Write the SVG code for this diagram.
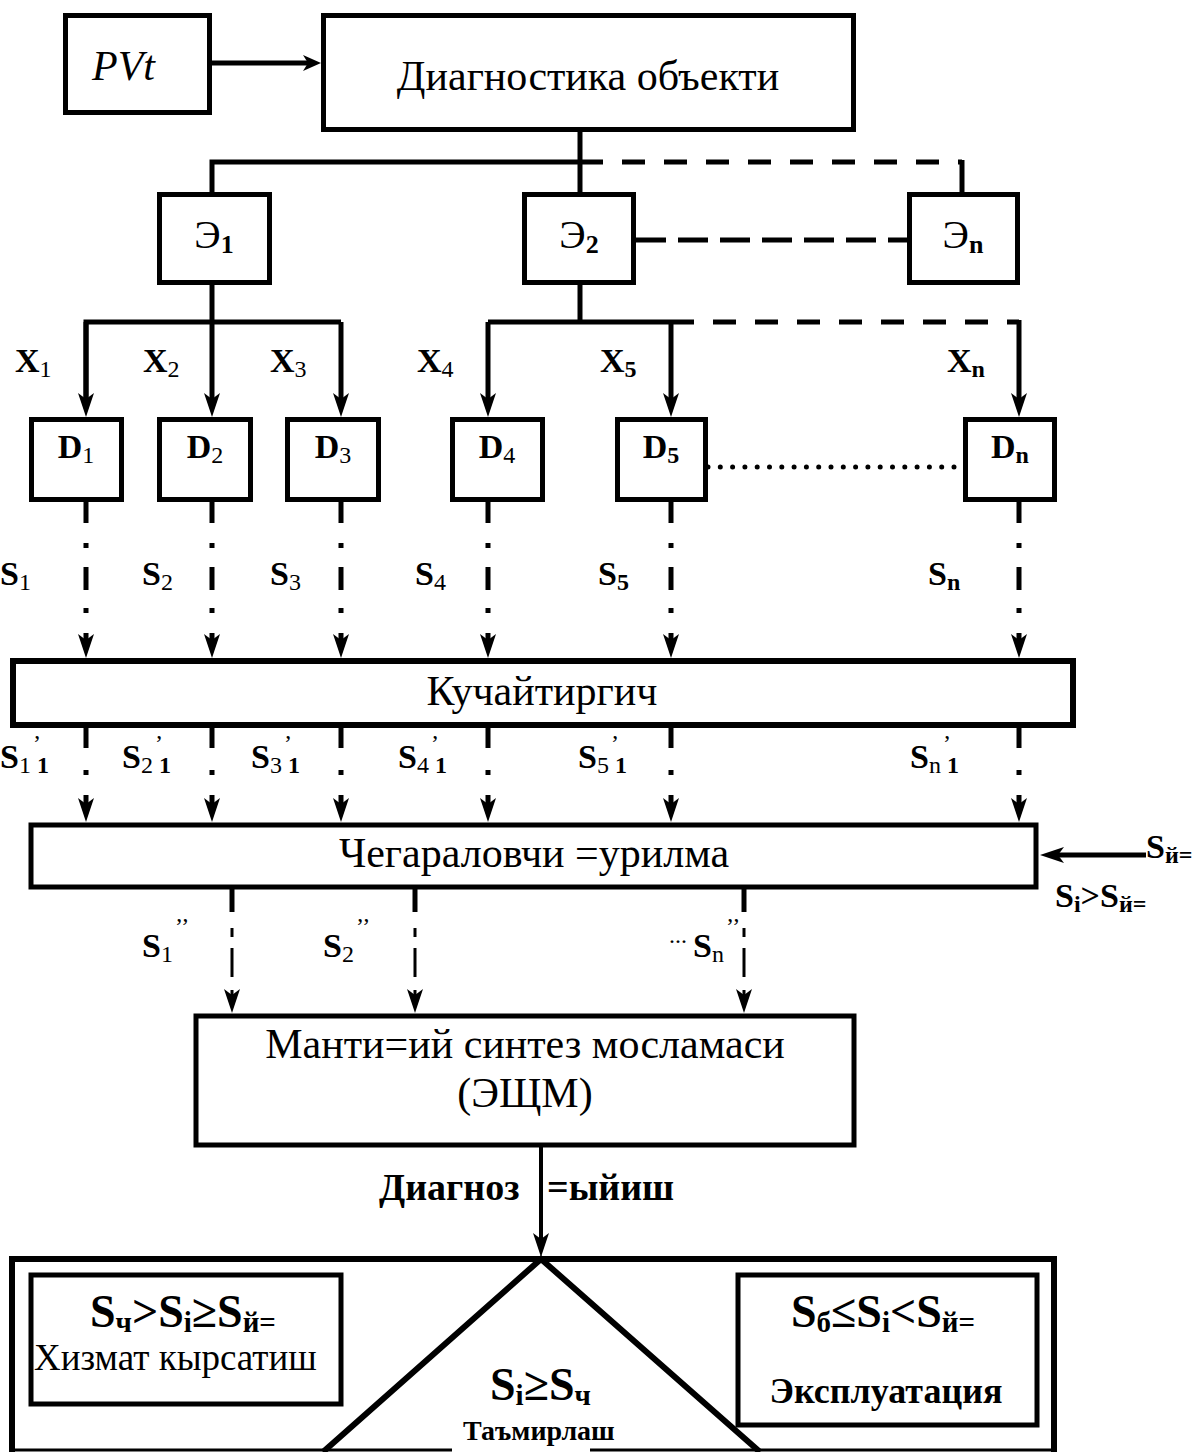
<svg xmlns="http://www.w3.org/2000/svg" width="1195" height="1452" viewBox="0 0 1195 1452">
<defs>
<style>
.box{fill:none;stroke:#000;stroke-width:5}
.ln{fill:none;stroke:#000;stroke-width:5}
.thin{fill:none;stroke:#000;stroke-width:3}
.t{font-family:"Liberation Serif","Times New Roman",serif;fill:#000}
.r42{font-size:42px}
.lb{font-size:34px;font-weight:bold}
.eb{font-size:40px;font-weight:normal}
.sub{font-size:24px;font-weight:normal}
.subb{font-size:24px;font-weight:bold}
.esub{font-size:26px;font-weight:bold}
.big{font-size:46px;font-weight:bold}
.bsub{font-size:29px;font-weight:bold}
</style>
<marker id="ah" viewBox="0 0 24 16" refX="6" refY="8" markerWidth="24" markerHeight="16" markerUnits="userSpaceOnUse" orient="auto"><path d="M0,0 L24,8 L0,16 L6,8 Z" fill="#000"/></marker>
<marker id="ahs" viewBox="0 0 18 16" refX="5" refY="8" markerWidth="18" markerHeight="16" markerUnits="userSpaceOnUse" orient="auto"><path d="M0,0 L18,8 L0,16 L5,8 Z" fill="#000"/></marker>
</defs>
<rect width="1195" height="1452" fill="#fff"/>

<g id="connectors">
<path class="ln" d="M212,63 H308" marker-end="url(#ahs)"/>
<path class="ln" d="M580,132 V192"/>
<path class="ln" d="M212,192 V162 H580"/>
<path class="ln" d="M580,162 H962" stroke-dasharray="23 19"/>
<path class="ln" d="M962,160 V192"/>
<path class="ln" d="M636,240 H907" stroke-dasharray="30 12"/>
<path class="ln" d="M212,285 V399" marker-end="url(#ah)"/>
<path class="ln" d="M86,399 V322 H341"/>
<path class="ln" d="M86,322 V399" marker-end="url(#ah)"/>
<path class="ln" d="M341,322 V399" marker-end="url(#ah)"/>
<path class="ln" d="M580,285 V322"/>
<path class="ln" d="M488,322 H671"/>
<path class="ln" d="M488,322 V399" marker-end="url(#ah)"/>
<path class="ln" d="M671,322 V399" marker-end="url(#ah)"/>
<path class="ln" d="M671,322 H1019" stroke-dasharray="23 19"/>
<path class="ln" d="M1019,320 V399" marker-end="url(#ah)"/>
<path class="ln" d="M708,467 H963" stroke-dasharray="0 12.3" stroke-linecap="round"/>
<g stroke-dasharray="21 20 5 19 23 18 5 20 20">
<path class="ln" d="M86,502 V640" marker-end="url(#ah)"/>
<path class="ln" d="M212,502 V640" marker-end="url(#ah)"/>
<path class="ln" d="M341,502 V640" marker-end="url(#ah)"/>
<path class="ln" d="M488,502 V640" marker-end="url(#ah)"/>
<path class="ln" d="M671,502 V640" marker-end="url(#ah)"/>
<path class="ln" d="M1019,502 V640" marker-end="url(#ah)"/>
</g>
<g stroke-dasharray="20 22 5 20 9">
<path class="ln" d="M86,728 V804" marker-end="url(#ah)"/>
<path class="ln" d="M212,728 V804" marker-end="url(#ah)"/>
<path class="ln" d="M341,728 V804" marker-end="url(#ah)"/>
<path class="ln" d="M488,728 V804" marker-end="url(#ah)"/>
<path class="ln" d="M671,728 V804" marker-end="url(#ah)"/>
<path class="ln" d="M1019,728 V804" marker-end="url(#ah)"/>
</g>
<path class="ln" d="M1146,855 H1058" marker-end="url(#ah)"/>
<path class="ln" d="M232,887 V912"/>
<path class="ln" d="M415,887 V912"/>
<path class="ln" d="M744,887 V912"/>
<g stroke-dasharray="9 11 29 13 10">
<path class="thin" d="M232,928 V995" marker-end="url(#ah)"/>
<path class="thin" d="M415,928 V995" marker-end="url(#ah)"/>
<path class="thin" d="M744,928 V995" marker-end="url(#ah)"/>
</g>
<path class="ln" style="stroke-width:4" d="M541,1145 V1239" marker-end="url(#ah)"/>
</g>

<g id="pvt">
<rect class="box" x="65.5" y="15.5" width="144" height="97"/>
<text class="t r42" x="92" y="80" font-style="italic">PVt</text>
</g>
<g id="diag-object">
<rect class="box" x="323.5" y="15.5" width="530" height="114"/>
<text class="t r42" x="588" y="90" text-anchor="middle">Диагностика объекти</text>
</g>
<g id="e1"><rect class="box" x="159.5" y="194.5" width="110" height="88"/><text class="t eb" x="214" y="248" text-anchor="middle">Э<tspan class="esub" dy="5">1</tspan></text></g>
<g id="e2"><rect class="box" x="524.5" y="194.5" width="109" height="88"/><text class="t eb" x="579" y="248" text-anchor="middle">Э<tspan class="esub" dy="5">2</tspan></text></g>
<g id="en"><rect class="box" x="909.5" y="194.5" width="108" height="88"/><text class="t eb" x="963" y="248" text-anchor="middle">Э<tspan class="esub" dy="5">n</tspan></text></g>

<g id="d1"><rect class="box" x="31.5" y="419.5" width="90" height="80"/><text class="t lb" x="76" y="458" text-anchor="middle">D<tspan class="sub" dy="5">1</tspan></text></g>
<g id="d2"><rect class="box" x="159.5" y="419.5" width="91" height="80"/><text class="t lb" x="205" y="458" text-anchor="middle">D<tspan class="sub" dy="5">2</tspan></text></g>
<g id="d3"><rect class="box" x="287.5" y="419.5" width="91" height="80"/><text class="t lb" x="333" y="458" text-anchor="middle">D<tspan class="sub" dy="5">3</tspan></text></g>
<g id="d4"><rect class="box" x="452.5" y="419.5" width="90" height="80"/><text class="t lb" x="497" y="458" text-anchor="middle">D<tspan class="sub" dy="5">4</tspan></text></g>
<g id="d5"><rect class="box" x="617.5" y="419.5" width="88" height="80"/><text class="t lb" x="661" y="458" text-anchor="middle">D<tspan class="subb" dy="5">5</tspan></text></g>
<g id="dn"><rect class="box" x="965.5" y="419.5" width="89" height="80"/><text class="t lb" x="1010" y="458" text-anchor="middle">D<tspan class="subb" dy="5">n</tspan></text></g>

<g id="x-labels">
<text class="t lb" x="15" y="372">X<tspan class="sub" dy="5">1</tspan></text>
<text class="t lb" x="143" y="372">X<tspan class="sub" dy="5">2</tspan></text>
<text class="t lb" x="270" y="372">X<tspan class="sub" dy="5">3</tspan></text>
<text class="t lb" x="417" y="372">X<tspan class="sub" dy="5">4</tspan></text>
<text class="t lb" x="600" y="372">X<tspan class="subb" dy="5">5</tspan></text>
<text class="t lb" x="947" y="372">X<tspan class="subb" dy="5">n</tspan></text>
</g>
<g id="s-labels">
<text class="t lb" x="0" y="585">S<tspan class="sub" dy="5">1</tspan></text>
<text class="t lb" x="142" y="585">S<tspan class="sub" dy="5">2</tspan></text>
<text class="t lb" x="270" y="585">S<tspan class="sub" dy="5">3</tspan></text>
<text class="t lb" x="415" y="585">S<tspan class="sub" dy="5">4</tspan></text>
<text class="t lb" x="598" y="585">S<tspan class="subb" dy="5">5</tspan></text>
<text class="t lb" x="928" y="585">S<tspan class="subb" dy="5">n</tspan></text>
</g>

<g id="kuchaytirgich">
<rect class="box" style="stroke-width:6" x="13" y="661" width="1060" height="64"/>
<text class="t r42" x="542" y="705" text-anchor="middle">Кучайтиргич</text>
</g>

<g id="s1-labels">
<text class="t lb" x="0" y="768">S<tspan class="sub" dy="5">1</tspan><tspan class="sub" dy="-22" dx="2">’</tspan><tspan class="subb" dy="22" dx="-4">1</tspan></text>
<text class="t lb" x="122" y="768">S<tspan class="sub" dy="5">2</tspan><tspan class="sub" dy="-22" dx="2">’</tspan><tspan class="subb" dy="22" dx="-4">1</tspan></text>
<text class="t lb" x="251" y="768">S<tspan class="sub" dy="5">3</tspan><tspan class="sub" dy="-22" dx="2">’</tspan><tspan class="subb" dy="22" dx="-4">1</tspan></text>
<text class="t lb" x="398" y="768">S<tspan class="sub" dy="5">4</tspan><tspan class="sub" dy="-22" dx="2">’</tspan><tspan class="subb" dy="22" dx="-4">1</tspan></text>
<text class="t lb" x="578" y="768">S<tspan class="sub" dy="5">5</tspan><tspan class="sub" dy="-22" dx="2">’</tspan><tspan class="subb" dy="22" dx="-4">1</tspan></text>
<text class="t lb" x="910" y="768">S<tspan class="sub" dy="5">n</tspan><tspan class="sub" dy="-22" dx="2">’</tspan><tspan class="subb" dy="22" dx="-4">1</tspan></text>
</g>

<g id="chegaralovchi">
<rect class="box" x="31" y="825" width="1005" height="62"/>
<text class="t r42" x="534" y="867" text-anchor="middle">Чегараловчи =урилма</text>
</g>
<g id="threshold-labels">
<text class="t lb" x="1146" y="858">S<tspan class="subb" dy="5">й=</tspan></text>
<text class="t lb" x="1055" y="907">S<tspan class="subb" dy="5">i</tspan><tspan dy="-5">&gt;S</tspan><tspan class="subb" dy="5">й=</tspan></text>
</g>
<g id="s2-labels">
<text class="t lb" x="142" y="957">S<tspan class="sub" dy="5">1</tspan><tspan class="sub" dy="-28" dx="2">’’</tspan></text>
<text class="t lb" x="323" y="957">S<tspan class="sub" dy="5">2</tspan><tspan class="sub" dy="-28" dx="2">’’</tspan></text>
<text class="t lb" x="669" y="957"><tspan class="sub" dy="-14">...</tspan><tspan dy="14" dx="6">S</tspan><tspan class="sub" dy="5">n</tspan><tspan class="sub" dy="-28" dx="2">’’</tspan></text>
</g>

<g id="mantiqiy">
<rect class="box" x="196" y="1016" width="658" height="129"/>
<text class="t r42" x="525" y="1058" text-anchor="middle">Манти=ий синтез мосламаси</text>
<text class="t r42" x="525" y="1107" text-anchor="middle">(ЭЩМ)</text>
</g>
<g id="diagnoz-label">
<text class="t" style="font-size:38px;font-weight:bold" x="379" y="1200">Диагноз <tspan x="547">=ыйиш</tspan></text>
</g>

<g id="decision">
<path class="ln" style="stroke-width:6" d="M12,1452 V1259 H1054 V1452"/>
<path class="thin" d="M12,1450 H452 M590,1450 H1054"/>
<path class="ln" style="stroke-width:6" d="M323,1452 L541,1259 L760,1452"/>
</g>
<g id="service">
<rect class="box" x="31" y="1275" width="310" height="129"/>
<text class="t big" x="90" y="1327">S<tspan class="bsub" dy="5">ч</tspan><tspan dy="-5">&gt;S</tspan><tspan class="bsub" dy="5">i</tspan><tspan dy="-5">≥S</tspan><tspan class="bsub" dy="5">й=</tspan></text>
<text class="t" style="font-size:37px" x="34" y="1370">Хизмат кырсатиш</text>
</g>
<g id="repair">
<text class="t big" x="490" y="1400">S<tspan class="bsub" dy="5">i</tspan><tspan dy="-5">≥S</tspan><tspan class="bsub" dy="5">ч</tspan></text>
<text class="t" style="font-size:28px;font-weight:bold" x="463" y="1440">Таъмирлаш</text>
</g>
<g id="exploitation">
<rect class="box" x="738" y="1275" width="299" height="150"/>
<text class="t big" x="791" y="1327">S<tspan class="bsub" dy="5">б</tspan><tspan dy="-5">≤S</tspan><tspan class="bsub" dy="5">i</tspan><tspan dy="-5">&lt;S</tspan><tspan class="bsub" dy="5">й=</tspan></text>
<text class="t" style="font-size:36px;font-weight:bold" x="886" y="1403" text-anchor="middle">Эксплуатация</text>
</g>
</svg>
